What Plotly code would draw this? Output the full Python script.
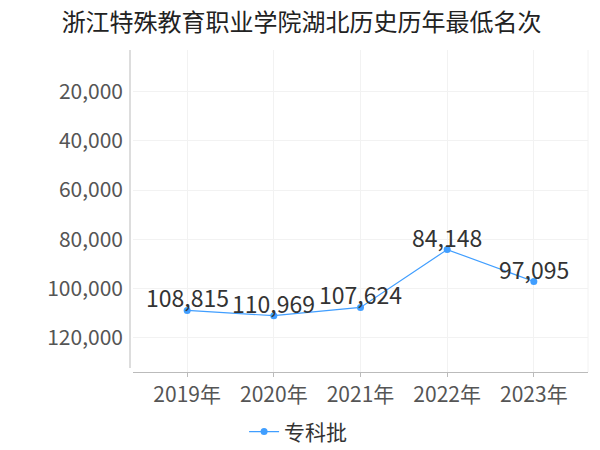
import plotly.graph_objects as go

years = ["2019年", "2020年", "2021年", "2022年", "2023年"]
ranks = [108815, 110969, 107624, 84148, 97095]
labels = ["108,815", "110,969", "107,624", "84,148", "97,095"]
series_name = "专科批"
title = "浙江特殊教育职业学院湖北历史历年最低名次"
ytick_vals = [20000, 40000, 60000, 80000, 100000, 120000]
ytick_text = ["20,000", "40,000", "60,000", "80,000", "100,000", "120,000"]

FONT = "Noto Sans CJK SC, Noto Sans, DejaVu Sans, sans-serif"
color = "#409eff"

# page body has an 8px default margin; size the figure to fit the 600x450 window
W, H = 592, 442

fig = go.Figure()
fig.add_trace(go.Scatter(
    x=list(range(len(years))), y=ranks, mode="lines+markers",
    name=series_name,
    line=dict(color=color, width=1.2),
    marker=dict(color=color, size=7),
    cliponaxis=False,
))
for i, (v, t) in enumerate(zip(ranks, labels)):
    fig.add_annotation(x=i, y=v, text=t, showarrow=False, yshift=13,
                       xanchor="center", yanchor="middle",
                       font=dict(size=23, color="#333333", family=FONT))

fig.update_layout(
    width=W, height=H,
    margin=dict(l=125, r=12, t=42, b=78, autoexpand=False),
    paper_bgcolor="white", plot_bgcolor="white",
    font=dict(family=FONT),
    title=dict(text=title, x=0.496, xref="container", xanchor="center",
               y=0.966, yref="container", yanchor="middle",
               font=dict(size=24, color="#222222", family=FONT)),
    showlegend=True,
    legend=dict(orientation="h", x=0.49, xref="container", xanchor="center",
                y=0.041, yref="container", yanchor="middle",
                font=dict(size=21, color="#333333", family=FONT)),
    xaxis=dict(
        range=[-0.625, 4.625], automargin=False,
        tickmode="array", tickvals=list(range(len(years))), ticktext=years,
        tickfont=dict(size=21, color="#555555", family=FONT),
        showgrid=True, gridcolor="#f2f2f2", gridwidth=1,
        showline=True, linecolor="#bbbbbb", linewidth=1,
        ticks="outside", ticklen=4, tickcolor="#bbbbbb",
        zeroline=False, mirror=False,
    ),
    yaxis=dict(
        range=[133800, 3200], automargin=False,
        tickmode="array", tickvals=ytick_vals, ticktext=ytick_text,
        tickfont=dict(size=21, color="#555555", family=FONT),
        showgrid=True, gridcolor="#f2f2f2", gridwidth=1,
        showline=False, ticks="", zeroline=False,
        ticklabelstandoff=9,
    ),
)
# y axis line, drawn slightly left of the plot area like the reference
fig.add_shape(type="line", xref="paper", yref="paper", x0=-3/455, x1=-3/455,
              y0=4/322, y1=1, line=dict(color="#bbbbbb", width=1))
# right edge grid line
fig.add_shape(type="line", xref="paper", yref="paper", x0=1, x1=1, y0=0, y1=1,
              line=dict(color="#f2f2f2", width=1))

fig.write_html("out.html")
